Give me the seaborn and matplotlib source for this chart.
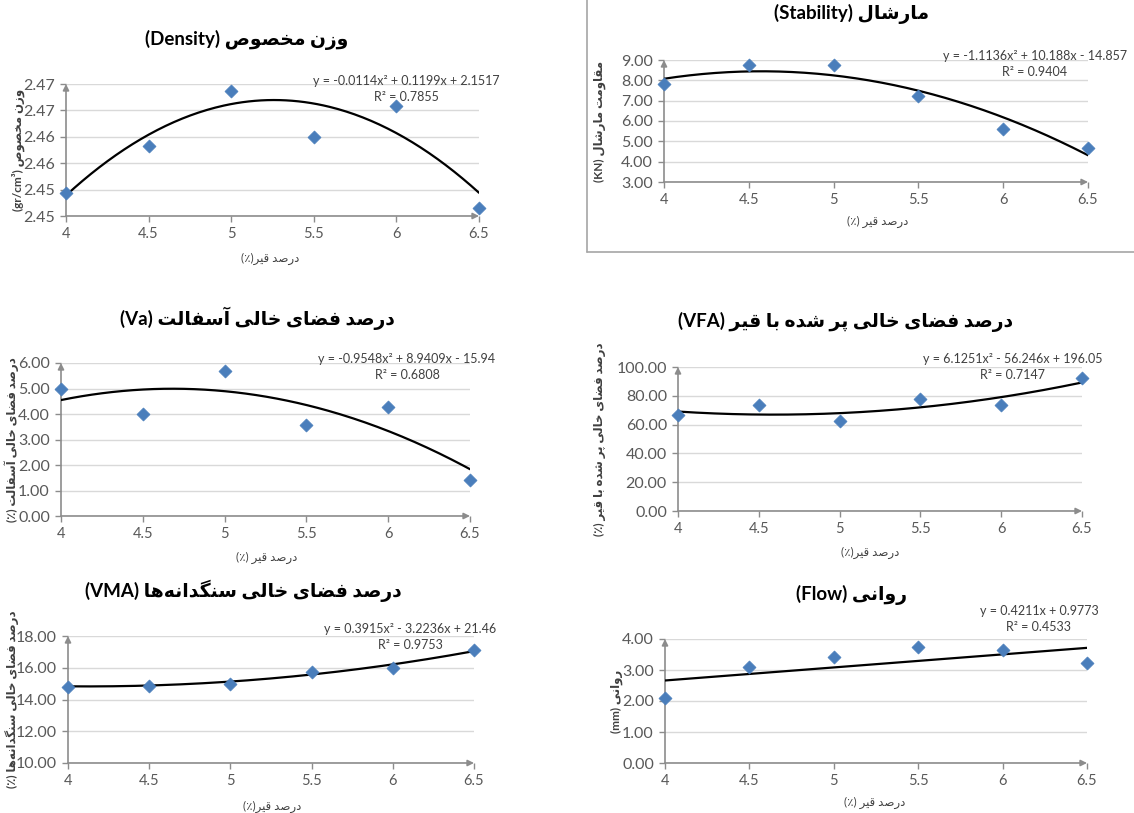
import numpy as np
import pandas as pd
import matplotlib
matplotlib.use("Agg")
import matplotlib.pyplot as plt
import seaborn as sns
from matplotlib.lines import Line2D
from matplotlib.ticker import MultipleLocator, FuncFormatter

# ---------------------------------------------------------------- data
bitumen = [4, 4.5, 5, 5.5, 6, 6.5]
bitumen_labels = ["4", "4.5", "5", "5.5", "6", "6.5"]

density = [2.4494, 2.4582, 2.4687, 2.4600, 2.4659, 2.4466]
stability = [7.82, 8.77, 8.74, 7.24, 5.61, 4.68]
va = [5.00, 4.01, 5.69, 3.58, 4.29, 1.43]
vfa = [66.7, 73.6, 62.5, 77.9, 73.6, 92.2]
vma = [14.77, 14.88, 15.00, 15.71, 15.98, 17.09]
flow = [2.09, 3.10, 3.42, 3.73, 3.63, 3.21]

# trendline coefficients (x², x, constant) and R²
density_fit = [-0.0114, 0.1199, 2.1517]
stability_fit = [-1.1136, 10.188, -14.857]
va_fit = [-0.9548, 8.9409, -15.94]
vfa_fit = [6.1251, -56.246, 196.05]
vma_fit = [0.3915, -3.2236, 21.46]
flow_fit = [0.0, 0.4211, 0.9773]
r2_values = [0.7855, 0.9404, 0.6808, 0.7147, 0.9753, 0.4533]

titles_fa = ["وزن مخصوص", "مارشال", "درصد فضای خالی آسفالت",
             "درصد فضای خالی پر شده با قیر", "درصد فضای خالی سنگدانه‌ها", "روانی"]
titles_en = ["Density", "Stability", "Va", "VFA", "VMA", "Flow"]
ylabels_fa = ["وزن مخصوص", "مقاومت مارشال", "درصد فضای خالی آسفالت",
              "درصد فضای خالی پر شده با قیر", "درصد فضای خالی سنگدانه‌ها", "روانی"]
ylabels_unit = ["gr/cm³", "KN", "٪", "٪", "٪", "mm"]
xlabel_fa = "درصد قیر"

# ------------------------------------------------ Persian text shaping
# (isolated, final, initial, medial) presentation forms
FORMS = {
    "\u0622": ("\uFE81", "\uFE82", None, None),
    "\u0627": ("\uFE8D", "\uFE8E", None, None),
    "\u0628": ("\uFE8F", "\uFE90", "\uFE91", "\uFE92"),
    "\u067E": ("\uFB56", "\uFB57", "\uFB58", "\uFB59"),
    "\u062A": ("\uFE95", "\uFE96", "\uFE97", "\uFE98"),
    "\u062E": ("\uFEA5", "\uFEA6", "\uFEA7", "\uFEA8"),
    "\u062F": ("\uFEA9", "\uFEAA", None, None),
    "\u0631": ("\uFEAD", "\uFEAE", None, None),
    "\u0632": ("\uFEAF", "\uFEB0", None, None),
    "\u0633": ("\uFEB1", "\uFEB2", "\uFEB3", "\uFEB4"),
    "\u0634": ("\uFEB5", "\uFEB6", "\uFEB7", "\uFEB8"),
    "\u0635": ("\uFEB9", "\uFEBA", "\uFEBB", "\uFEBC"),
    "\u0636": ("\uFEBD", "\uFEBE", "\uFEBF", "\uFEC0"),
    "\u0641": ("\uFED1", "\uFED2", "\uFED3", "\uFED4"),
    "\u0642": ("\uFED5", "\uFED6", "\uFED7", "\uFED8"),
    "\u06AF": ("\uFB92", "\uFB93", "\uFB94", "\uFB95"),
    "\u0644": ("\uFEDD", "\uFEDE", "\uFEDF", "\uFEE0"),
    "\u0645": ("\uFEE1", "\uFEE2", "\uFEE3", "\uFEE4"),
    "\u0646": ("\uFEE5", "\uFEE6", "\uFEE7", "\uFEE8"),
    "\u0647": ("\uFEE9", "\uFEEA", "\uFEEB", "\uFEEC"),
    "\u0648": ("\uFEED", "\uFEEE", None, None),
    "\u06CC": ("\uFBFC", "\uFBFD", "\uFBFE", "\uFBFF"),
}


def rtl(text):
    """Join Persian letters into their contextual forms, in visual order."""
    text = text.replace("\u064A", "\u06CC")
    out = []
    for i, ch in enumerate(text):
        if ch not in FORMS:
            if ch != "\u200C":
                out.append(ch)
            continue
        prev = text[i - 1] if i > 0 else ""
        nxt = text[i + 1] if i + 1 < len(text) else ""
        joins_prev = prev in FORMS and FORMS[prev][2] is not None
        joins_next = FORMS[ch][2] is not None and nxt in FORMS
        iso, fin, ini, med = FORMS[ch]
        if joins_prev and joins_next:
            out.append(med)
        elif joins_prev:
            out.append(fin)
        elif joins_next:
            out.append(ini)
        else:
            out.append(iso)
    return "".join(reversed(out))


def equation(coef):
    a, b, c = coef
    parts = []
    if a != 0:
        parts.append(f"{a}x²")
    for val, suffix in ((b, "x"), (c, "")):
        if parts:
            parts.append(("+ " if val >= 0 else "- ") + f"{abs(val)}{suffix}")
        else:
            parts.append(f"{val}{suffix}")
    return "y = " + " ".join(parts)


# ------------------------------------------------------------- figure
W, H = 1134, 813
sns.set_theme(style="white")
plt.rcParams["font.family"] = ["Lato", "DejaVu Sans"]

AXIS = "#8c8c8c"
GRID = "#d9d9d9"
TICK_TXT = "#595959"
MARK = "#4a7ebb"

fig = plt.figure(figsize=(W / 100, H / 100), dpi=100)
fig.patch.set_facecolor("white")

series = [density, stability, va, vfa, vma, flow]
fits = [density_fit, stability_fit, va_fit, vfa_fit, vma_fit, flow_fit]
y_ranges = [(2.445, 2.470, 0.005), (3, 9, 1), (0, 6, 1),
            (0, 100, 20), (10, 18, 2), (0, 4, 1)]

# plot-area boxes in pixels: left, right, top, bottom
boxes = [(66, 479, 84, 216), (664, 1088, 60, 182), (61, 470, 363, 516),
         (678, 1082, 367, 511), (68, 474, 636, 763), (665, 1087, 639, 763)]
title_pos = [(247, 48), (851, 22), (257, 327), (846, 330), (243, 599), (851, 603)]
eq_pos = [(406, 89), (1035, 64), (407, 367), (1013, 367), (410, 637), (1039, 619)]
ylab_x = [18, 600, 12, 600, 12, 617]
xlab_pos = [(270, 259), (878, 222), (267, 558), (870, 553), (272, 807), (875, 803)]
xlab_space = ["", " ", " ", "", "", " "]

for k in range(6):
    l, r, t, b = boxes[k]
    ax = fig.add_axes([l / W, 1 - b / H, (r - l) / W, (b - t) / H])
    lo, hi, step = y_ranges[k]

    xs = np.linspace(4, 6.5, 200)
    ys = np.polyval(fits[k], xs)
    sns.lineplot(x=xs, y=ys, ax=ax, color="black", linewidth=1.6, zorder=3)
    df = pd.DataFrame({"x": bitumen, "y": series[k]})
    sns.scatterplot(data=df, x="x", y="y", ax=ax, marker="D", s=44,
                    color=MARK, edgecolor=MARK, linewidth=0.5, zorder=4,
                    clip_on=False)

    ax.set_xlim(4, 6.5)
    ax.set_ylim(lo, hi)
    ax.set_xticks(bitumen)
    ax.set_xticklabels(bitumen_labels)
    ax.yaxis.set_major_locator(MultipleLocator(step))
    ax.yaxis.set_major_formatter(FuncFormatter(lambda v, _: f"{v + 1e-9:.2f}"))

    ax.grid(axis="y", color=GRID, linewidth=1)
    ax.grid(axis="x", visible=False)
    for sp in ax.spines.values():
        sp.set_visible(False)
    arrow = dict(arrowstyle="-|>", color=AXIS, lw=1.2, mutation_scale=9,
                 shrinkA=0, shrinkB=0)
    ax.annotate("", xy=(0, 1), xytext=(0, 0), xycoords="axes fraction",
                arrowprops=arrow, annotation_clip=False, zorder=2)
    ax.annotate("", xy=(1, 0), xytext=(0, 0), xycoords="axes fraction",
                arrowprops=arrow, annotation_clip=False, zorder=2)
    ax.tick_params(axis="both", which="major", bottom=True, left=True,
                   direction="out", length=4, width=1, color=AXIS,
                   labelcolor=TICK_TXT, pad=4)
    ax.tick_params(axis="y", labelsize=11.5)
    ax.tick_params(axis="x", labelsize=10.5)

    # titles
    tx, ty = title_pos[k]
    ax.set_title(f"({titles_en[k]}) " + rtl(titles_fa[k]),
                 x=(tx - l) / (r - l), y=(b - ty) / (b - t),
                 ha="center", va="center", fontsize=13.5, fontweight="bold",
                 color="black")

    # axis labels
    ax.set_ylabel(f"({ylabels_unit[k]}) " + rtl(ylabels_fa[k]),
                  fontsize=8.5, fontweight="bold", color="#404040")
    ax.yaxis.set_label_coords((ylab_x[k] - l) / (r - l), 0.5)
    ax.yaxis.label.set_va("center")
    xx, xy = xlab_pos[k]
    ax.set_xlabel("(٪)" + xlab_space[k] + rtl(xlabel_fa), fontsize=8.5,
                  color="#404040", va="center")
    ax.xaxis.set_label_coords((xx - l) / (r - l), (b - xy) / (b - t))

    # trendline equation
    ex, ey = eq_pos[k]
    ax.text((ex - l) / (r - l), (b - ey) / (b - t),
            equation(fits[k]) + "\n" + f"R² = {r2_values[k]}",
            transform=ax.transAxes, ha="center", va="center",
            multialignment="center", fontsize=9, color="#404040",
            linespacing=1.45)

# frame around the stability chart
fig.add_artist(Line2D([587 / W, 587 / W], [1, 1 - 252 / H],
                      color="#a6a6a6", linewidth=1.2))
fig.add_artist(Line2D([587 / W, 1], [1 - 252 / H, 1 - 252 / H],
                      color="#a6a6a6", linewidth=1.2))

fig.savefig("out.png", dpi=100, facecolor="white")
